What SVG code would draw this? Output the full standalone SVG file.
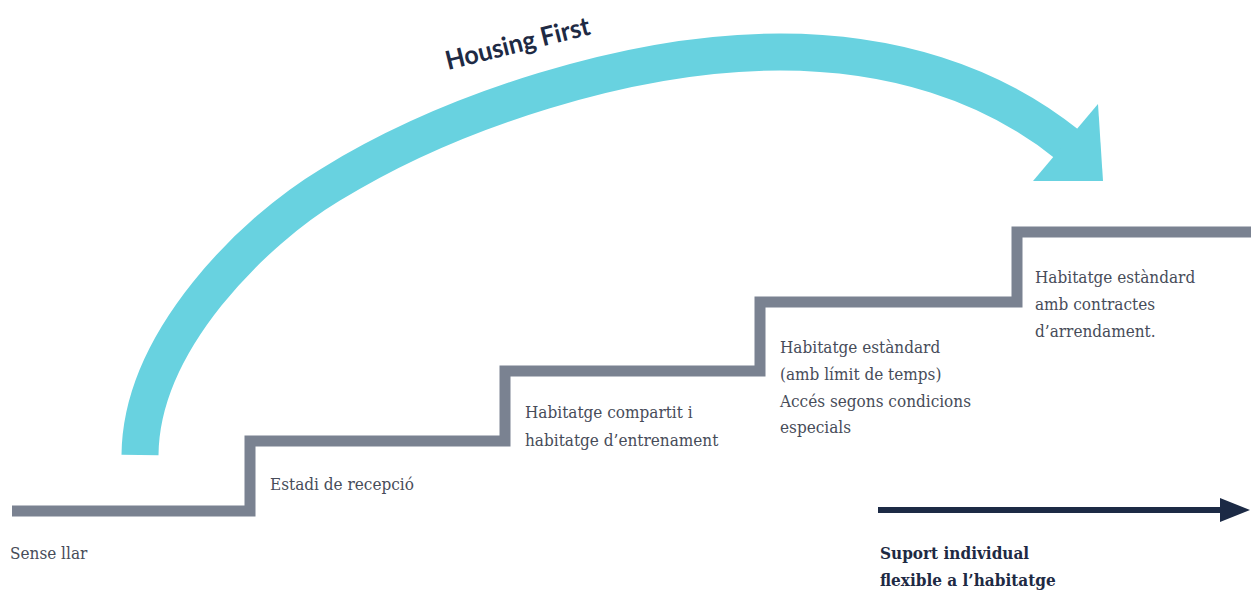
<svg xmlns="http://www.w3.org/2000/svg" width="1251" height="592" viewBox="0 0 1251 592">
  <style>
    .lbl { font-family: "DejaVu Serif Condensed", "DejaVu Serif", "Liberation Serif", serif; font-stretch: condensed; font-size: 17px; fill: #474c59; }
    .bold { font-family: "DejaVu Serif Condensed", "DejaVu Serif", "Liberation Serif", serif; font-stretch: condensed; font-weight: bold; font-size: 17px; fill: #1e2a44; }
    .title { font-family: Lato, "Open Sans", "Liberation Sans", sans-serif; font-weight: bold; font-size: 26px; fill: #1e2a44; }
    .stair { fill: none; stroke: #7a8291; stroke-width: 11; stroke-linejoin: miter; }
    .cyan { fill: none; stroke: #68d2e0; stroke-width: 37; stroke-linecap: butt; }
    .cyanhead { fill: #68d2e0; }
    .dark { fill: none; stroke: #1c2a45; stroke-width: 6; }
  </style>
  <defs>
    <marker id="darkhead" markerUnits="userSpaceOnUse" markerWidth="32" markerHeight="26" refX="2" refY="12" orient="auto">
      <polygon points="0,0 30,12 0,24" fill="#1c2a45"/>
    </marker>
  </defs>
  <rect width="1251" height="592" fill="#ffffff"/>

  <g id="stairs">
    <path class="stair" d="M12,511 H250 V441 H505 V371 H760 V302 H1017 V232 H1251"/>
  </g>

  <g id="connectors">
    <path id="housing-first-arrow" class="cyan" d="M140,455 C141,340 255,230 330,185 C450,111 630,52 780,52 C890,52 990,82 1068,145"/>
    <polygon class="cyanhead" points="1098,104 1103,181 1033,181"/>
    <path id="support-arrow" class="dark" d="M878,510 H1222" marker-end="url(#darkhead)"/>
  </g>

  <g id="title">
    <text class="title" transform="translate(448,70) rotate(-14)" textLength="148" lengthAdjust="spacingAndGlyphs">Housing First</text>
  </g>

  <g id="node-sense-llar">
    <text class="lbl" x="10" y="559">Sense llar</text>
  </g>
  <g id="node-recepcio">
    <text class="lbl" x="270" y="490">Estadi de recepció</text>
  </g>
  <g id="node-compartit">
    <text class="lbl" x="525" y="418">Habitatge compartit i</text>
    <text class="lbl" x="525" y="446">habitatge d’entrenament</text>
  </g>
  <g id="node-limit-temps">
    <text class="lbl" x="780" y="353">Habitatge estàndard</text>
    <text class="lbl" x="780" y="380">(amb límit de temps)</text>
    <text class="lbl" x="780" y="407">Accés segons condicions</text>
    <text class="lbl" x="780" y="433">especials</text>
  </g>
  <g id="node-contractes">
    <text class="lbl" x="1035" y="283">Habitatge estàndard</text>
    <text class="lbl" x="1035" y="310">amb contractes</text>
    <text class="lbl" x="1035" y="337">d’arrendament.</text>
  </g>
  <g id="node-suport">
    <text class="bold" x="880" y="559">Suport individual</text>
    <text class="bold" x="880" y="586">flexible a l’habitatge</text>
  </g>
</svg>
